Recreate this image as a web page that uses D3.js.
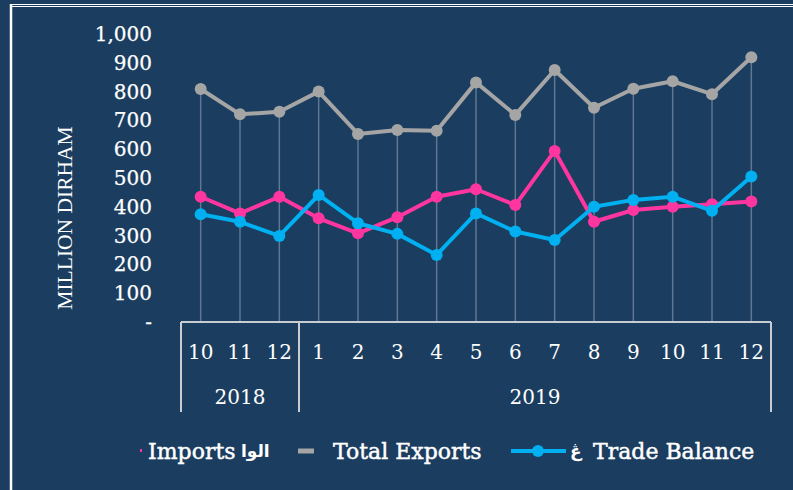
<!DOCTYPE html>
<html>
<head>
<meta charset="utf-8">
<script src="https://cdn.jsdelivr.net/npm/d3@7"></script>
<style>
  body { margin: 0; background: #1b3d5f; }
  svg text { fill: #ffffff; }
</style>
</head>
<body>
<script>
// chart data
var months = ["10", "11", "12", "1", "2", "3", "4", "5", "6", "7", "8", "9", "10", "11", "12"];
var years = [{ label: "2018", count: 3 }, { label: "2019", count: 12 }];
var exportsData = [809, 721, 730, 800, 653, 667, 664, 832, 719, 875, 744, 810, 836, 791, 919];
var importsData = [435, 377, 435, 360, 308, 364, 435, 461, 406, 594, 348, 389, 400, 409, 418];
var balanceData = [374, 348, 299, 441, 343, 306, 233, 377, 314, 285, 400, 424, 435, 386, 505];
var yTicks = [0, 100, 200, 300, 400, 500, 600, 700, 800, 900, 1000];

var svgWidth = 793;
var svgHeight = 490;

var plot = { left: 181, right: 771, top: 34, bottom: 322 };

var svg = d3.select("body")
  .append("svg")
  .attr("width", svgWidth)
  .attr("height", svgHeight);

svg.append("rect")
  .attr("width", svgWidth)
  .attr("height", svgHeight)
  .attr("fill", "#1b3d5f");

// white frame (runs off the right and bottom)
svg.append("line").attr("x1", 11).attr("x2", svgWidth).attr("y1", 4.5).attr("y2", 4.5)
  .attr("stroke", "#ffffff").attr("stroke-width", 1);
svg.append("line").attr("x1", 11).attr("x2", svgWidth).attr("y1", 6.5).attr("y2", 6.5)
  .attr("stroke", "#ffffff").attr("stroke-width", 1.2);
svg.append("line").attr("x1", 11).attr("x2", 11).attr("y1", 4).attr("y2", svgHeight)
  .attr("stroke", "#ffffff").attr("stroke-width", 2.5);

var idx = d3.range(months.length);

var x = d3.scaleBand()
  .domain(idx)
  .range([plot.left, plot.right])
  .padding(0);

var y = d3.scaleLinear()
  .domain([0, 1000])
  .range([plot.bottom, plot.top]);

var cx = i => x(i) + x.bandwidth() / 2;

// y axis tick labels
var yAxis = d3.axisLeft(y)
  .tickValues(yTicks)
  .tickSize(0)
  .tickPadding(0)
  .tickFormat(d => d === 0 ? "-" : d3.format(",")(d));

svg.append("g")
  .attr("transform", "translate(152,0)")
  .call(yAxis)
  .call(g => g.select(".domain").remove())
  .selectAll("text")
  .attr("font-family", "DejaVu Serif")
  .attr("font-size", "20px")
  .attr("fill", "#ffffff")
  .attr("stroke", "#ffffff")
  .attr("stroke-width", 0.25);

// y axis title
svg.append("text")
  .attr("transform", "translate(72,218) rotate(-90)")
  .attr("text-anchor", "middle")
  .attr("font-family", "Liberation Serif")
  .attr("font-size", "21.5px")
  .text("MILLION DIRHAM");

// drop lines
svg.append("g").selectAll("line")
  .data(idx)
  .enter()
  .append("line")
  .attr("x1", d => cx(d))
  .attr("x2", d => cx(d))
  .attr("y1", d => y(Math.max(exportsData[d], importsData[d], balanceData[d])))
  .attr("y2", y(0))
  .attr("stroke", "#5f7791")
  .attr("stroke-width", 1.5);

// category axis
var axisColor = "#c9cdd2";
svg.append("line")
  .attr("x1", plot.left).attr("x2", plot.right)
  .attr("y1", y(0)).attr("y2", y(0))
  .attr("stroke", axisColor).attr("stroke-width", 2);

var bounds = [0];
years.forEach(function(yr) { bounds.push(bounds[bounds.length - 1] + yr.count); });

svg.append("g").selectAll("line")
  .data(bounds)
  .enter()
  .append("line")
  .attr("x1", d => d < months.length ? x(d) : plot.right)
  .attr("x2", d => d < months.length ? x(d) : plot.right)
  .attr("y1", y(0))
  .attr("y2", 412)
  .attr("stroke", axisColor)
  .attr("stroke-width", 2);

svg.append("g").selectAll("text")
  .data(idx)
  .enter()
  .append("text")
  .attr("x", d => cx(d))
  .attr("y", 359)
  .attr("text-anchor", "middle")
  .attr("font-family", "DejaVu Serif")
  .attr("font-size", "20px")
  .text(d => months[d]);

svg.append("g").selectAll("text")
  .data(years)
  .enter()
  .append("text")
  .attr("x", (d, i) => (x(bounds[i]) + (bounds[i + 1] < months.length ? x(bounds[i + 1]) : plot.right)) / 2)
  .attr("y", 404)
  .attr("text-anchor", "middle")
  .attr("font-family", "DejaVu Serif")
  .attr("font-size", "20px")
  .text(d => d.label);

// series
var series = [
  { name: "Total Exports", values: exportsData, color: "#a5a5a5" },
  { name: "Imports", values: importsData, color: "#ff35a0" },
  { name: "Trade Balance", values: balanceData, color: "#00b0f0" }
];

var line = d3.line()
  .x((d, i) => cx(i))
  .y(d => y(d));

series.forEach(function(s) {
  svg.append("path")
    .datum(s.values)
    .attr("d", line)
    .attr("fill", "none")
    .attr("stroke", s.color)
    .attr("stroke-width", 4)
    .attr("stroke-linejoin", "round");

  svg.append("g").selectAll("circle")
    .data(s.values)
    .enter()
    .append("circle")
    .attr("cx", (d, i) => cx(i))
    .attr("cy", d => y(d))
    .attr("r", 6)
    .attr("fill", s.color);
});

// legend
var legendY = 451;
var legend = svg.append("g");

function legendText(xPos, label) {
  legend.append("text")
    .attr("x", xPos).attr("y", legendY + 8)
    .attr("font-family", "DejaVu Serif")
    .attr("font-size", "22px")
    .attr("stroke", "#ffffff")
    .attr("stroke-width", 0.45)
    .text(label);
}

legend.append("rect")
  .attr("x", 140).attr("y", legendY - 2)
  .attr("width", 2).attr("height", 3)
  .attr("fill", "#ff35a0");
legendText(148, "Imports");
legend.append("text")
  .attr("x", 241).attr("y", legendY + 6)
  .attr("font-family", "DejaVu Sans")
  .attr("font-size", "17px")
  .attr("font-weight", "bold")
  .text("الوا");

legend.append("line")
  .attr("x1", 298).attr("x2", 314)
  .attr("y1", legendY).attr("y2", legendY)
  .attr("stroke", "#a5a5a5").attr("stroke-width", 5);
legendText(333, "Total Exports");

legend.append("line")
  .attr("x1", 511).attr("x2", 566)
  .attr("y1", legendY).attr("y2", legendY)
  .attr("stroke", "#00b0f0").attr("stroke-width", 4);
legend.append("circle")
  .attr("cx", 538).attr("cy", legendY)
  .attr("r", 6)
  .attr("fill", "#00b0f0");
legend.append("text")
  .attr("x", 570).attr("y", legendY + 6)
  .attr("font-family", "DejaVu Sans")
  .attr("font-size", "17px")
  .attr("font-weight", "bold")
  .text("ڠ");
legendText(593, "Trade Balance");
</script>
</body>
</html>
